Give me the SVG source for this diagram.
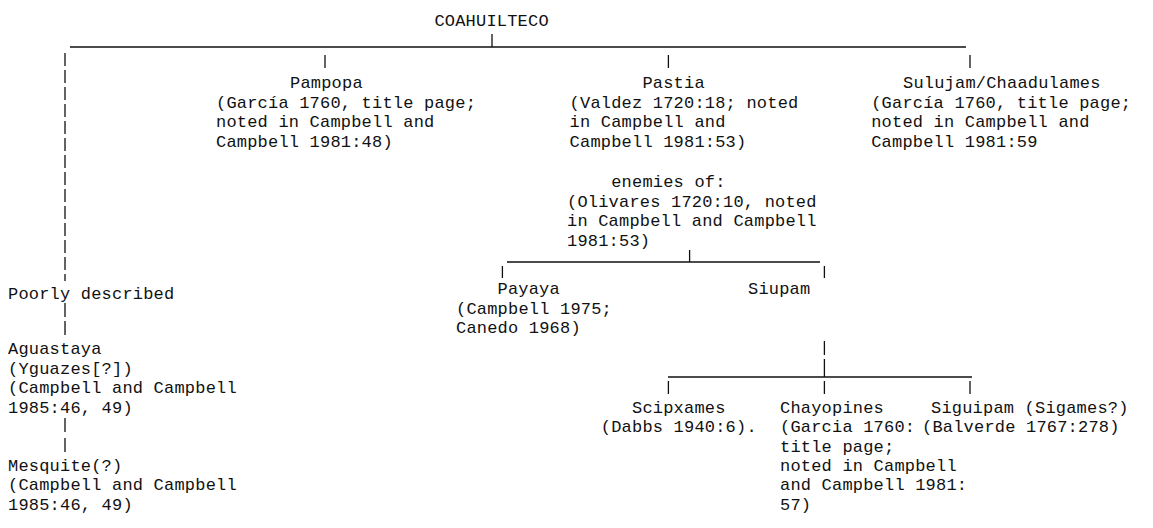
<svg xmlns="http://www.w3.org/2000/svg" width="1153" height="528" viewBox="0 0 1153 528">
<style>
text{font-family:"Liberation Mono","DejaVu Sans Mono",monospace;font-size:17px;letter-spacing:0.2px;fill:#111;}
.c{stroke:#111;stroke-width:1.3;fill:none;}
.d{stroke-dasharray:13 4;}
</style>
<rect width="1153" height="528" fill="#fff"/>
<g id="connectors">
<path class="c" d="M70,47H966 M492,34V47 M325,55V68 M668.4,55V68 M970,55V68"/>
<path class="c d" d="M65,53V281"/>
<path class="c" d="M65,303V317 M65,321V335 M65,418V432 M65,438V452"/>
<path class="c" d="M507,262H820 M689.6,250V262 M502.4,266V278 M824.4,266V278"/>
<path class="c" d="M824.4,341V355 M824.4,359V377 M668,377H972 M668.4,381V394 M824.4,381V394 M970,381V394"/>
</g>
<g id="coahuilteco"><text x="434.4" y="26">COAHUILTECO</text></g>
<g id="pampopa">
<text x="290" y="88">Pampopa</text>
<text x="216" y="107.5">(García 1760, title page;</text>
<text x="216" y="127">noted in Campbell and</text>
<text x="216" y="146.5">Campbell 1981:48)</text>
</g>
<g id="pastia">
<text x="642.4" y="88">Pastia</text>
<text x="569.6" y="107.5">(Valdez 1720:18; noted</text>
<text x="569.6" y="127">in Campbell and</text>
<text x="569.6" y="146.5">Campbell 1981:53)</text>
</g>
<g id="sulujam">
<text x="903" y="88">Sulujam/Chaadulames</text>
<text x="871.2" y="107.5">(García 1760, title page;</text>
<text x="871.2" y="127">noted in Campbell and</text>
<text x="871.2" y="146.5">Campbell 1981:59</text>
</g>
<g id="enemies">
<text x="611.2" y="187">enemies of:</text>
<text x="567" y="206.5">(Olivares 1720:10, noted</text>
<text x="567" y="226">in Campbell and Campbell</text>
<text x="567" y="245.5">1981:53)</text>
</g>
<g id="poorly"><text x="8" y="299">Poorly described</text></g>
<g id="aguastaya">
<text x="8" y="354">Aguastaya</text>
<text x="8" y="373.5">(Yguazes[?])</text>
<text x="8" y="393">(Campbell and Campbell</text>
<text x="8" y="412.5">1985:46, 49)</text>
</g>
<g id="mesquite">
<text x="8" y="471">Mesquite(?)</text>
<text x="8" y="490">(Campbell and Campbell</text>
<text x="8" y="509.5">1985:46, 49)</text>
</g>
<g id="payaya">
<text x="497.5" y="294">Payaya</text>
<text x="456" y="313.5">(Campbell 1975;</text>
<text x="456" y="333">Canedo 1968)</text>
</g>
<g id="siupam"><text x="748" y="294">Siupam</text></g>
<g id="scipxames">
<text x="632" y="412.5">Scipxames</text>
<text x="600.8" y="432">(Dabbs 1940:6).</text>
</g>
<g id="chayopines">
<text x="780" y="412.5">Chayopines</text>
<text x="780" y="432">(Garcia 1760:</text>
<text x="780" y="451.5">title page;</text>
<text x="780" y="471">noted in Campbell</text>
<text x="780" y="490">and Campbell 1981:</text>
<text x="780" y="509.5">57)</text>
</g>
<g id="siguipam">
<text x="931" y="412.5">Siguipam (Sigames?)</text>
<text x="922" y="432">(Balverde 1767:278)</text>
</g>
</svg>
